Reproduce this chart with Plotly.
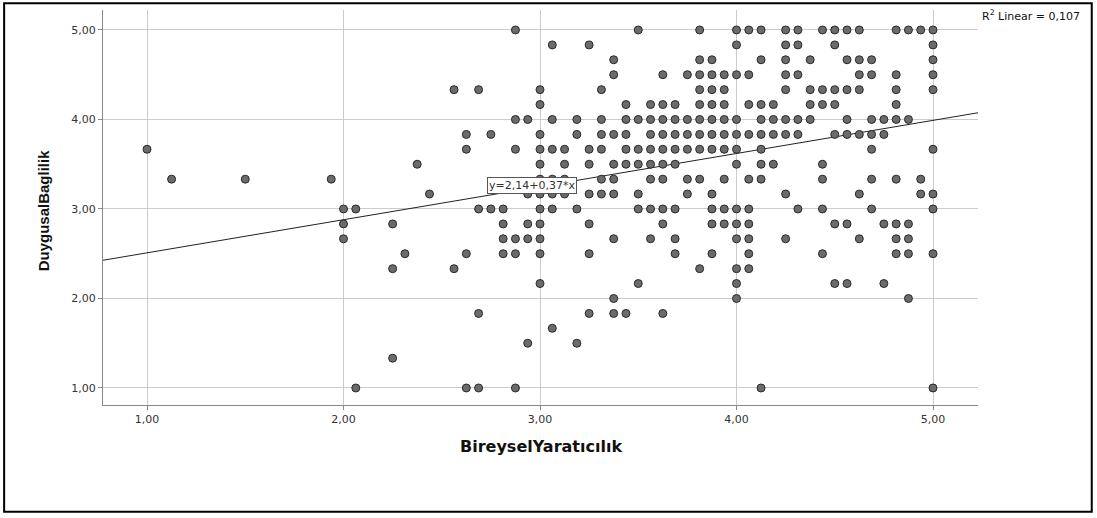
import plotly.graph_objects as go

# x values (BireyselYaratıcılık) observed at each y level (DuygusalBaglilik)
y_levels = [5.0, 4.833, 4.667, 4.5, 4.333, 4.167, 4.0, 3.833, 3.667, 3.5, 3.333,
            3.167, 3.0, 2.833, 2.667, 2.5, 2.333, 2.167, 2.0, 1.833, 1.667, 1.5,
            1.333, 1.0]

x_at_500 = [2.875, 3.5, 3.8125, 4.0, 4.0625, 4.125, 4.25, 4.3125, 4.4375, 4.5, 4.5625,
            4.625, 4.8125, 4.875, 4.9375, 5.0]
x_at_483 = [3.0625, 3.25, 4.0, 4.25, 4.3125, 4.5, 5.0]
x_at_467 = [3.375, 3.8125, 3.875, 4.125, 4.25, 4.375, 4.5625, 4.625, 4.6875, 5.0]
x_at_450 = [3.375, 3.625, 3.75, 3.8125, 3.875, 3.9375, 4.0, 4.0625, 4.25, 4.3125,
            4.625, 4.6875, 4.8125, 5.0]
x_at_433 = [2.5625, 2.6875, 3.0, 3.3125, 3.8125, 3.875, 3.9375, 4.25, 4.375, 4.4375,
            4.5, 4.5625, 4.625, 4.8125, 5.0]
x_at_417 = [3.0, 3.4375, 3.5625, 3.625, 3.6875, 3.8125, 3.875, 3.9375, 4.0625, 4.125,
            4.1875, 4.375, 4.4375, 4.5, 4.8125]
x_at_400 = [2.875, 2.9375, 3.0625, 3.1875, 3.3125, 3.4375, 3.5, 3.5625, 3.625, 3.6875,
            3.75, 3.8125, 3.875, 3.9375, 4.0, 4.125, 4.1875, 4.25, 4.3125, 4.375,
            4.5625, 4.6875, 4.75, 4.8125, 4.875]
x_at_383 = [2.625, 2.75, 3.0, 3.1875, 3.3125, 3.375, 3.4375, 3.5625, 3.625, 3.6875,
            3.75, 3.8125, 3.875, 3.9375, 4.0, 4.0625, 4.125, 4.1875, 4.25, 4.3125,
            4.5, 4.5625, 4.625, 4.6875, 4.75]
x_at_367 = [1.0, 2.625, 2.875, 3.0, 3.0625, 3.125, 3.25, 3.3125, 3.4375, 3.5, 3.5625,
            3.625, 3.6875, 3.75, 3.8125, 3.875, 3.9375, 4.0, 4.125, 4.6875, 5.0]
x_at_350 = [2.375, 3.0, 3.125, 3.25, 3.375, 3.4375, 3.5, 3.5625, 3.625, 3.6875, 4.0,
            4.125, 4.1875, 4.4375]
x_at_333 = [1.125, 1.5, 1.9375, 3.0, 3.0625, 3.125, 3.3125, 3.375, 3.5625, 3.625, 3.75,
            3.8125, 3.9375, 4.0625, 4.125, 4.4375, 4.6875, 4.8125, 4.9375]
x_at_317 = [2.4375, 2.9375, 3.0, 3.0625, 3.125, 3.25, 3.3125, 3.375, 3.5, 3.75, 3.875,
            4.25, 4.625, 4.9375, 5.0]
x_at_300 = [2.0, 2.0625, 2.6875, 2.75, 2.8125, 3.0, 3.0625, 3.1875, 3.5, 3.5625, 3.625,
            3.6875, 3.875, 3.9375, 4.0, 4.0625, 4.3125, 4.4375, 4.6875, 5.0]
x_at_283 = [2.0, 2.25, 2.8125, 2.9375, 3.0, 3.25, 3.625, 3.875, 3.9375, 4.0, 4.0625,
            4.5, 4.5625, 4.75, 4.8125, 4.875]
x_at_267 = [2.0, 2.8125, 2.875, 2.9375, 3.0, 3.375, 3.5625, 3.6875, 4.0, 4.0625, 4.25,
            4.625, 4.8125, 4.875]
x_at_250 = [2.3125, 2.625, 2.8125, 2.875, 3.0, 3.25, 3.6875, 3.875, 4.0625, 4.4375,
            4.8125, 4.875, 5.0]
x_at_233 = [2.25, 2.5625, 3.8125, 4.0, 4.0625]
x_at_217 = [3.0, 3.5, 4.0, 4.5, 4.5625, 4.75]
x_at_200 = [3.375, 4.0, 4.875]
x_at_183 = [2.6875, 3.25, 3.375, 3.4375, 3.625]
x_at_167 = [3.0625]
x_at_150 = [2.9375, 3.1875]
x_at_133 = [2.25]
x_at_100 = [2.0625, 2.625, 2.6875, 2.875, 4.125, 5.0]

x_rows = [x_at_500, x_at_483, x_at_467, x_at_450, x_at_433, x_at_417, x_at_400,
          x_at_383, x_at_367, x_at_350, x_at_333, x_at_317, x_at_300, x_at_283,
          x_at_267, x_at_250, x_at_233, x_at_217, x_at_200, x_at_183, x_at_167,
          x_at_150, x_at_133, x_at_100]

# Fit line reported on the chart
fit_intercept = 2.14
fit_slope = 0.37
r2_text = "R<sup>2</sup> Linear = 0,107"
eq_text = "y=2,14+0,37*x"
x_title = "BireyselYaratıcılık"
y_title = "DuygusalBaglilik"

x_tick_vals = [1, 2, 3, 4, 5]
x_tick_text = ["1,00", "2,00", "3,00", "4,00", "5,00"]
y_tick_vals = [1, 2, 3, 4, 5]
y_tick_text = ["1,00", "2,00", "3,00", "4,00", "5,00"]

xs, ys = [], []
for yv, row in zip(y_levels, x_rows):
    for xv in row:
        xs.append(xv)
        ys.append(yv)

x_range = [0.776, 5.229]
y_range = [0.81, 5.223]

fig = go.Figure()
fig.add_trace(go.Scatter(
    x=[x_range[0], x_range[1]],
    y=[fit_intercept + fit_slope * x_range[0], fit_intercept + fit_slope * x_range[1]],
    mode="lines", line=dict(color="#222222", width=1), hoverinfo="skip",
    showlegend=False))
fig.add_trace(go.Scatter(
    x=xs, y=ys, mode="markers",
    marker=dict(size=8, color="#6b6b6b", line=dict(color="#2a2a2a", width=1)),
    showlegend=False))

font_wide = "DejaVu Sans, Verdana, sans-serif"
font_arial = "Liberation Sans, Arial, sans-serif"

fig.update_layout(
    width=1097, height=518,
    margin=dict(l=103, r=119, t=10, b=113),
    paper_bgcolor="white", plot_bgcolor="white",
    font=dict(family=font_wide, size=11, color="#333333"),
    xaxis=dict(range=x_range, tickvals=x_tick_vals, ticktext=x_tick_text,
               showgrid=True, gridcolor="#cccccc", gridwidth=1, zeroline=False,
               showline=True, linecolor="#888888", linewidth=1,
               ticks="outside", ticklen=4, tickcolor="#888888",
               tickfont=dict(family=font_wide, size=11, color="#333333")),
    yaxis=dict(range=y_range, tickvals=y_tick_vals, ticktext=y_tick_text,
               showgrid=True, gridcolor="#cccccc", gridwidth=1, zeroline=False,
               showline=True, linecolor="#888888", linewidth=1,
               ticks="outside", ticklen=4, tickcolor="#888888",
               tickfont=dict(family=font_wide, size=11, color="#333333")),
    shapes=[dict(type="rect", xref="paper", yref="paper",
                 x0=-0.113, x1=1.13, y0=-0.27, y1=1.017,
                 line=dict(color="black", width=2), fillcolor="rgba(0,0,0,0)")],
    annotations=[
        dict(text="<b>" + x_title + "</b>", xref="paper", yref="paper",
             x=0.5, y=-0.104, xanchor="center", yanchor="middle", showarrow=False,
             font=dict(family=font_wide, size=16, color="#111111")),
        dict(text="<b>" + y_title + "</b>", xref="paper", yref="paper",
             x=-0.068, y=0.494, xanchor="center", yanchor="middle", showarrow=False,
             textangle=-90,
             font=dict(family=font_arial, size=15, color="#111111")),
        dict(text=r2_text, xref="paper", yref="paper", x=1.002, y=0.985,
             xanchor="left", yanchor="middle", showarrow=False,
             font=dict(family=font_wide, size=11, color="#111111")),
        dict(text=eq_text, xref="x", yref="y", x=2.73, y=3.26,
             xanchor="left", yanchor="middle", showarrow=False,
             bgcolor="white", bordercolor="#555555", borderwidth=1, borderpad=1,
             font=dict(family=font_wide, size=11, color="#333333")),
    ],
)

fig.write_html("out.html", config=dict(displayModeBar=False),
               post_script="document.body.style.margin='0px';")
